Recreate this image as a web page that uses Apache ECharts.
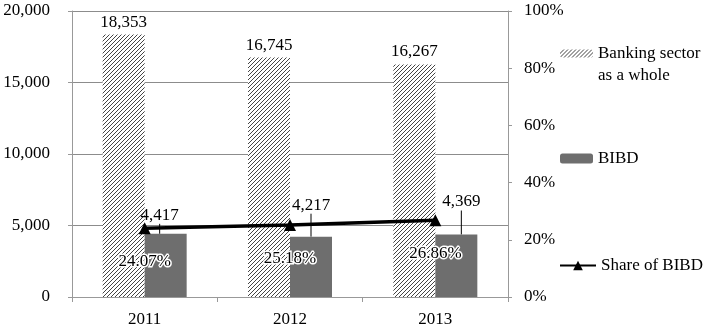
<!DOCTYPE html>
<html><head><meta charset="utf-8">
<script src="https://cdn.jsdelivr.net/npm/echarts@6/dist/echarts.min.js"></script>
<style>html,body{margin:0;padding:0;background:#fff}#c{width:710px;height:333px}</style>
</head><body><div id="c"></div>
<script>
const categories = ['2011', '2012', '2013'];
const bankingSector = [18353, 16745, 16267];
const bibd = [4417, 4217, 4369];
const shareBIBD = [24.07, 25.18, 26.86];
const leftTicks = [0, 5000, 10000, 15000, 20000];
const rightTicks = [0, 20, 40, 60, 80, 100];
const seriesNames = ['Banking sector as a whole', 'BIBD', 'Share of BIBD'];

function hatch(size, color) {
  const c = document.createElement('canvas');
  c.width = size; c.height = size;
  const g = c.getContext('2d');
  g.fillStyle = '#fff'; g.fillRect(0, 0, size, size);
  g.strokeStyle = color; g.lineWidth = 1;
  g.beginPath();
  g.moveTo(0, size); g.lineTo(size, 0);
  g.moveTo(-1, 1); g.lineTo(1, -1);
  g.moveTo(size - 1, size + 1); g.lineTo(size + 1, size - 1);
  g.stroke();
  return c;
}
const pat = { image: hatch(4, '#444'), repeat: 'repeat' };
const font = 'Liberation Serif';
const fs = 17;
const legText = { fontFamily: font, fontSize: fs, color: '#000' };

const chart = echarts.init(document.getElementById('c'), null, { renderer: 'canvas' });
const bibdOffsets = [[-6, -6], [0, -19], [5, -20]];
chart.setOption({
  animation: false,
  textStyle: { fontFamily: font, color: '#000' },
  grid: { left: 72, right: 202, top: 11, bottom: 36 },
  legend: [
    { data: [seriesNames[0]], left: 560, top: 45, padding: 0, itemWidth: 33, itemHeight: 8,
      formatter: () => 'Banking sector', textStyle: legText },
    { data: [seriesNames[1]], left: 560, top: 150, padding: 0, itemWidth: 33, itemHeight: 10,
      textStyle: legText },
    { data: [seriesNames[2]], left: 559, top: 257, padding: 0, itemWidth: 36, itemHeight: 12,
      textStyle: legText }
  ],
  graphic: [
    { type: 'text', left: 598, top: 67, style: { text: 'as a whole', font: fs + 'px "' + font + '"', fill: '#000' } }
  ],
  xAxis: {
    type: 'category', data: categories,
    axisLine: { lineStyle: { color: '#999' } },
    axisTick: { show: true, length: 5, lineStyle: { color: '#999' } },
    axisLabel: { fontFamily: font, fontSize: fs, color: '#000', margin: 14 }
  },
  yAxis: [
    { type: 'value', min: 0, max: 20000, interval: 5000,
      axisLine: { show: true, lineStyle: { color: '#999' } },
      axisTick: { show: true, length: 4, lineStyle: { color: '#999' } },
      splitLine: { lineStyle: { color: '#8c8c8c' } },
      axisLabel: { fontFamily: font, fontSize: fs, color: '#000', margin: 22,
        formatter: v => leftTicks.includes(v) ? v.toLocaleString('en-US') : '' } },
    { type: 'value', min: 0, max: 100, interval: 20,
      axisLine: { show: true, lineStyle: { color: '#999' } },
      axisTick: { show: true, length: 4, lineStyle: { color: '#999' } },
      splitLine: { show: false },
      axisLabel: { fontFamily: font, fontSize: fs, color: '#000', margin: 16,
        formatter: v => rightTicks.includes(v) ? v + '%' : '' } }
  ],
  series: [
    { name: seriesNames[0], type: 'bar', data: bankingSector, barWidth: 42, barGap: '0%',
      itemStyle: { color: pat },
      label: { show: true, position: 'top', distance: 4, fontFamily: font, fontSize: fs, color: '#000',
        formatter: p => p.value.toLocaleString('en-US') } },
    { name: seriesNames[1], type: 'bar', data: bibd, barWidth: 42, barGap: '0%',
      itemStyle: { color: '#6e6e6e' },
      label: { show: true, position: 'top', distance: 4, fontFamily: font, fontSize: fs, color: '#000',
        formatter: p => p.value.toLocaleString('en-US') },
      labelLine: { show: true, lineStyle: { color: '#000', width: 1 } },
      labelLayout: p => ({ dx: bibdOffsets[p.dataIndex][0], dy: bibdOffsets[p.dataIndex][1] }) },
    { name: seriesNames[2], type: 'line', yAxisIndex: 1, data: shareBIBD,
      symbol: 'triangle', symbolSize: 12,
      lineStyle: { color: '#000', width: 3.5 }, itemStyle: { color: '#000' },
      label: { show: true, position: 'bottom', distance: 19, fontFamily: font, fontSize: fs, color: '#000',
        textBorderColor: '#fff', textBorderWidth: 3, formatter: p => p.value.toFixed(2) + '%' },
      z: 5 }
  ]
});
</script></body></html>
